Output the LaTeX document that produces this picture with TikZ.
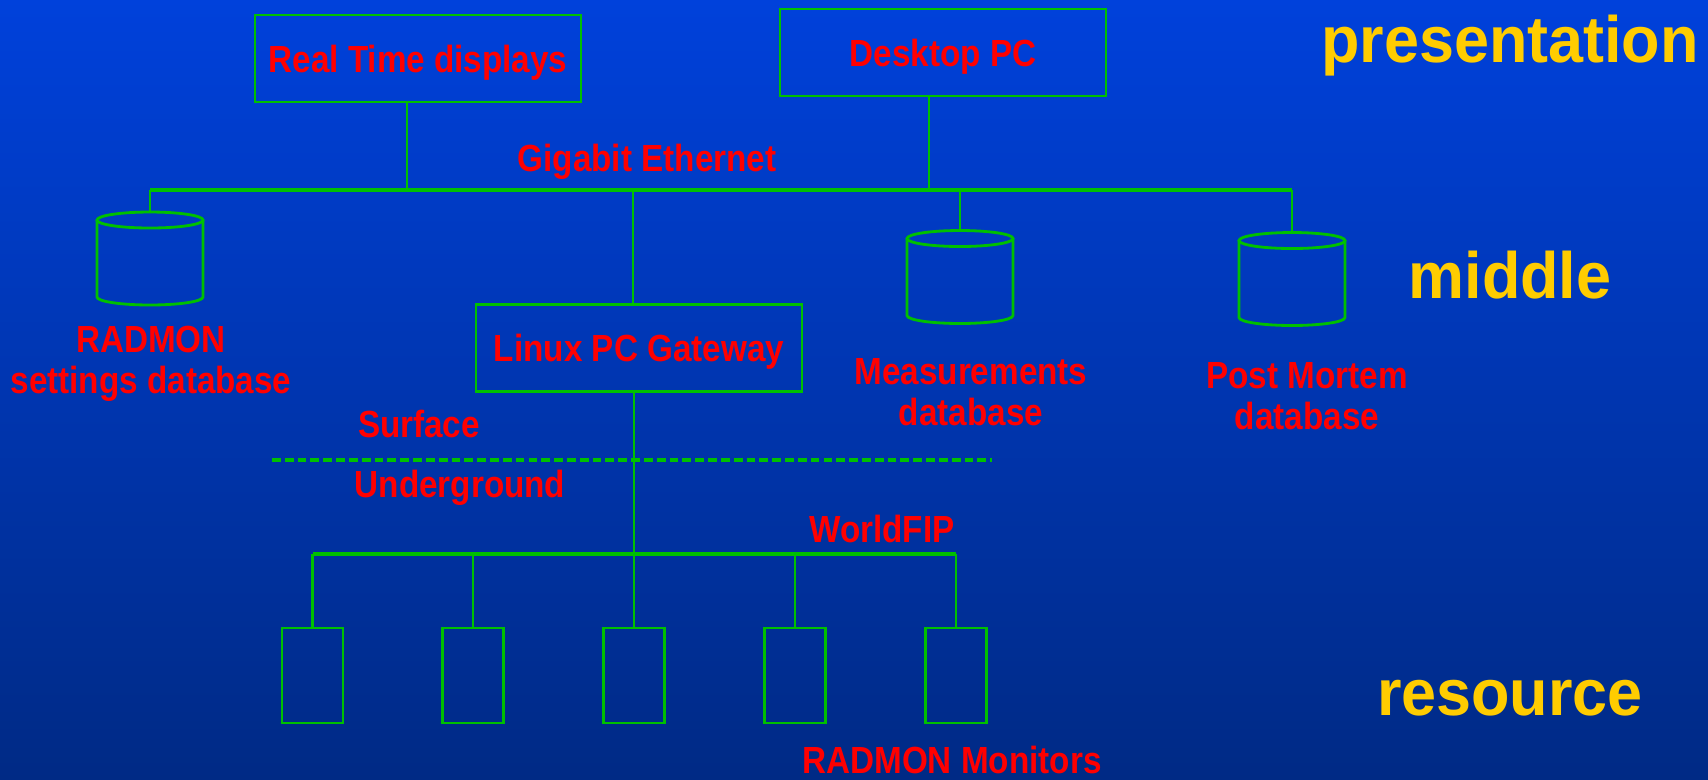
\documentclass[tikz,border=0pt]{standalone}
\usepackage{fontspec}
\newfontfamily\tagfont[FakeStretch=0.88]{Liberation Sans}
\newfontfamily\layerfont[FakeStretch=0.96]{Liberation Sans}
\usetikzlibrary{positioning}
\definecolor{bgtop}{RGB}{0,65,219}
\definecolor{bgbot}{RGB}{0,42,133}
\definecolor{wire}{RGB}{0,192,0}
\definecolor{tagred}{RGB}{255,0,0}
\definecolor{layergold}{RGB}{255,204,0}
\tikzset{every node/.style={inner sep=0pt}, % No padding, sizes are set below
        box/.style={ % Computers of the presentation and middle layer
            draw=wire, line width=1.6pt,
            minimum width=6.52cm, minimum height=1.74cm,
            text depth=0pt, text=tagred,
            font=\tagfont\bfseries\fontsize{21.5pt}{23.3pt}\selectfont},
        db/.style={ % Databases, the outline is drawn by \drawdb
            outer sep=0pt,
            minimum width=2.12cm, minimum height=1.86cm},
        dbline/.style={draw=wire, line width=1.6pt},
        monitor/.style={ % One RADMON monitor in the tunnel
            draw=wire, line width=1.6pt,
            minimum width=1.22cm, minimum height=1.9cm},
        link/.style={draw=wire, line width=1.2pt},
        bus/.style={draw=wire, line width=2pt},
        boundary/.style={draw=wire, line width=2pt, dash pattern=on 5pt off 2.3pt},
        tag/.style={ % Red labels
            text=tagred, anchor=base,
            font=\tagfont\bfseries\fontsize{21.5pt}{23.3pt}\selectfont},
        layer/.style={ % Yellow layer names on the right
            text=layergold, anchor=base,
            font=\layerfont\bfseries\fontsize{37.3pt}{40pt}\selectfont}
        }
% cylinder round a db node
\newcommand{\drawdb}[1]{%
    \draw[dbline] ([yshift=-0.16cm]#1.north) ellipse [x radius=1.06cm, y radius=0.16cm];
    \draw[dbline] ([yshift=-0.16cm]#1.north west) -- ([yshift=0.16cm]#1.south west)
        arc [start angle=180, end angle=360, x radius=1.06cm, y radius=0.16cm]
        -- ([yshift=-0.16cm]#1.north east);
}
\begin{document}
\begin{tikzpicture}[x=0.02cm, y=-0.02cm]
    \shade[top color=bgtop, bottom color=bgbot] (0,0) rectangle (1708,779);
    \useasboundingbox (0,0) rectangle (1708,779);

    \node[box]      (rtd)   at (418,58.5)   {Real Time displays};
    \node[box]      (pc)    at (943,52.5)   {Desktop PC};
    \node[box]      (gw)    at (639,348)    {Linux PC Gateway};

    \node[db]       (rdb)   at (150,258.5)  {};
    \node[db]       (mdb)   at (960,277)    {};
    \node[db]       (pdb)   at (1292,279)   {};
    \drawdb{rdb}
    \drawdb{mdb}
    \drawdb{pdb}

    \node[monitor]  (m1)    at (312.5,675.5) {};
    \node[monitor]  (m2)    [right=1.94cm of m1] {};
    \node[monitor]  (m3)    [right=1.94cm of m2] {};
    \node[monitor]  (m4)    [right=1.94cm of m3] {};
    \node[monitor]  (m5)    [right=1.94cm of m4] {};

    % Gigabit Ethernet
    \coordinate (ge) at (633,190);
    \draw[bus] (rdb.north |- ge) -- (pdb.north |- ge);
    \draw[link] ([xshift=-0.22cm]rtd.south) -- ([xshift=-0.22cm]rtd.south |- ge);
    \draw[link] ([xshift=-0.28cm]pc.south) -- ([xshift=-0.28cm]pc.south |- ge);
    \draw[link] ([xshift=-0.12cm]gw.north) -- ([xshift=-0.12cm]gw.north |- ge);
    \foreach \d in {rdb,mdb,pdb}
        \draw[link] (\d.north) -- (\d.north |- ge);

    % WorldFIP
    \coordinate (wf) at (634,554);
    \draw[bus] (m1.north |- wf) -- (m5.north |- wf);
    \draw[link] ([xshift=-0.1cm]gw.south) -- ([xshift=-0.1cm]gw.south |- wf);
    \foreach \i in {1,...,5}
        \draw[link] (m\i.north) -- (m\i.north |- wf);

    \draw[boundary] (272,460) -- (992,460);

    \node[tag]               (gelbl)  at (647,171)  {Gigabit Ethernet};
    \node[tag, align=center] (rdblbl) at (151,393)  {RADMON\\settings database};
    \node[tag, align=center] (mdblbl) at (971,425)  {Measurements\\database};
    \node[tag, align=center] (pdblbl) at (1307,429) {Post Mortem\\database};
    \node[tag]               (surf)   at (419,437)  {Surface};
    \node[tag]               (under)  at (460,497)  {Underground};
    \node[tag]               (wflbl)  at (882,542)  {WorldFIP};
    \node[tag]               (mlbl)   at (952,773)  {RADMON Monitors};

    \node[layer] (pres) at (1510,62)  {presentation};
    \node[layer] (mid)  at (1510,298) {middle};
    \node[layer] (res)  at (1510,715) {resource};
\end{tikzpicture}
\end{document}
